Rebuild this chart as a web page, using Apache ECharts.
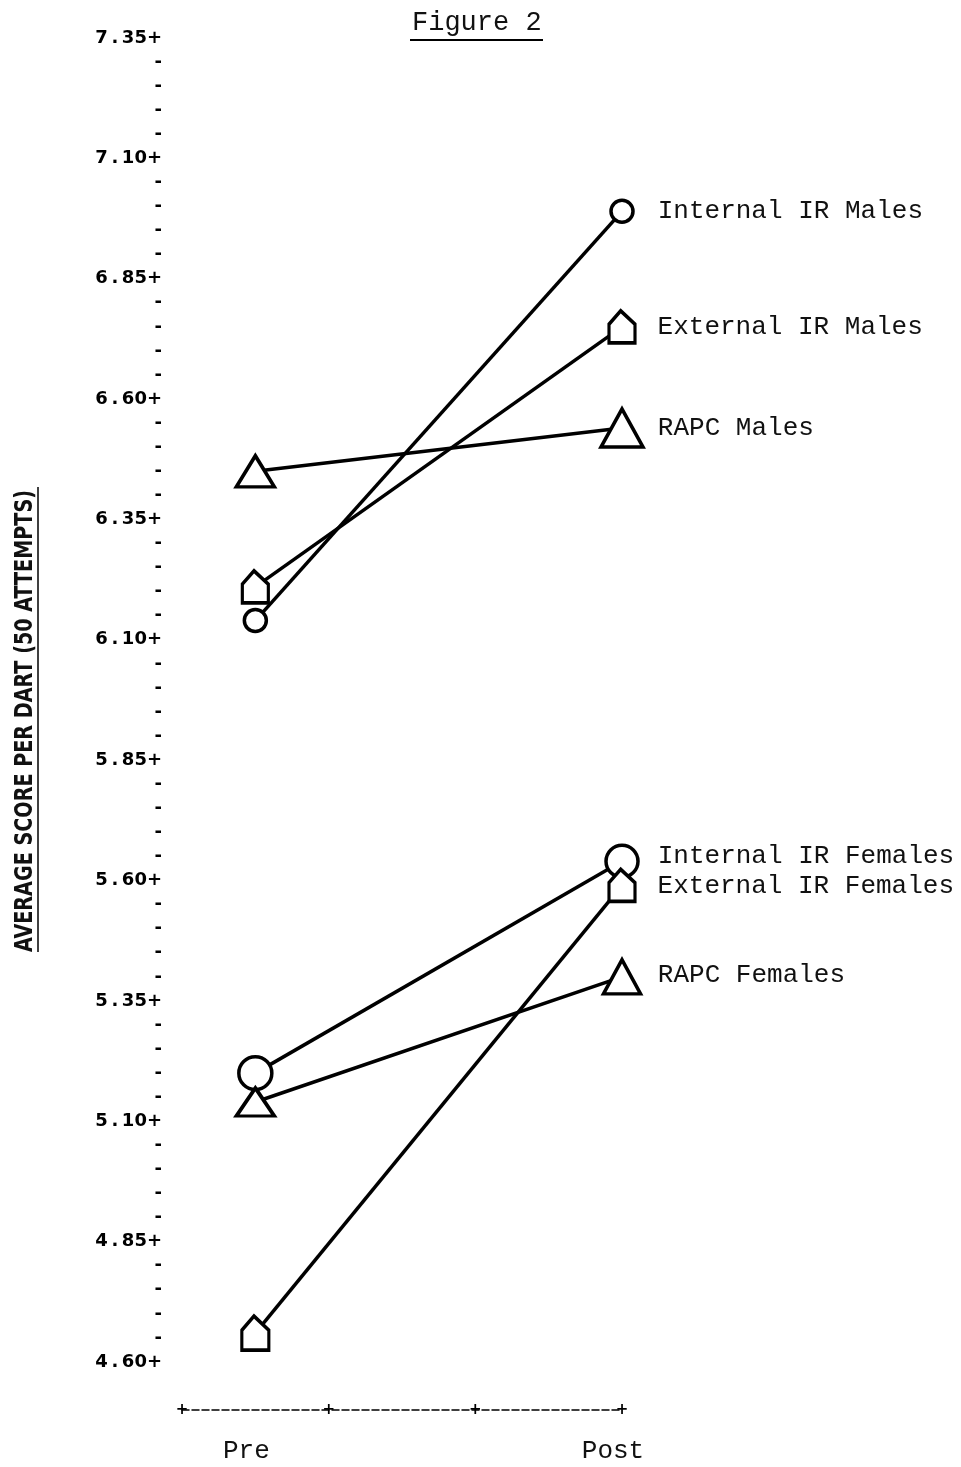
<!DOCTYPE html>
<html>
<head>
<meta charset="utf-8">
<title>Figure 2</title>
<script src="https://cdn.jsdelivr.net/npm/echarts@6/dist/echarts.min.js"></script>
<style>
    html, body { margin: 0; padding: 0; background: #fff; }
    #main { width: 961px; height: 1467px; }
</style>
</head>
<body>
<div id="main"></div>
<script>
// 数据
var groups = ['Internal IR Males', 'External IR Males', 'RAPC Males',
              'Internal IR Females', 'External IR Females', 'RAPC Females'];
var preScores  = [6.14, 6.21, 6.45, 5.20, 4.66, 5.14];
var postScores = [6.99, 6.75, 6.54, 5.64, 5.59, 5.40];
var phases = ['Pre', 'Post'];
var phaseX = [0.5, 3];
var yTickLabels = ['4.60', '4.85', '5.10', '5.35', '5.60', '5.85',
                   '6.10', '6.35', '6.60', '6.85', '7.10', '7.35'];
var yAxisTitle = 'AVERAGE SCORE PER DART (50 ATTEMPTS)';

// 标记形状
var house = 'path://M0,10 L9,0 L20,10 L20,24 L0,24 Z';
var markers = [
    { symbol: 'circle', pre: 22, post: 22 },
    { symbol: house, pre: [26, 32], post: [26, 32] },
    { symbol: 'triangle', pre: [38, 31], post: [42, 38] },
    { symbol: 'circle', pre: 33, post: 32 },
    { symbol: house, pre: [27, 34], post: [26, 32] },
    { symbol: 'triangle', pre: [38, 28], post: [37, 34] }
];
var labelDy = [0, 0, 0, -5, 1, -2];

var chart = echarts.init(document.getElementById('main'));

var series = [];
for (var i = 0; i < groups.length; i++) {
    var m = markers[i];
    var postW = Array.isArray(m.post) ? m.post[0] : m.post;
    series.push({
        name: groups[i],
        type: 'line',
        xAxisIndex: 0,
        symbol: m.symbol,
        symbolKeepAspect: false,
        lineStyle: { color: '#000', width: 3.5 },
        itemStyle: { color: '#fff', borderColor: '#000', borderWidth: 3.5 },
        z: 3,
        data: [
            { value: [phaseX[0], preScores[i]], symbolSize: m.pre },
            {
                value: [phaseX[1], postScores[i]],
                symbolSize: m.post,
                label: {
                    show: true,
                    position: 'right',
                    distance: 34 - postW / 2,
                    offset: [0, labelDy[i]],
                    formatter: groups[i],
                    fontFamily: 'Liberation Mono, monospace',
                    fontSize: 26,
                    color: '#111'
                }
            }
        ]
    });
}

var fig = 'Figure 2';
var nameFont = 'bold 24px "DejaVu Sans Condensed", "Liberation Sans Narrow", sans-serif';
var ctx = document.createElement('canvas').getContext('2d');
ctx.font = nameFont;
var nameScale = 462 / ctx.measureText(yAxisTitle).width;

var option = {
    animation: false,
    backgroundColor: '#fff',
    grid: { left: 182, right: 339, top: 38, bottom: 105, containLabel: false },
    xAxis: [
        {
            // 虚线横轴，带 + 号
            type: 'value', min: 0, max: 3, interval: 1,
            position: 'bottom', offset: 48,
            axisLine: { show: true, lineStyle: { color: '#000', width: 1.5, type: [7, 3] } },
            axisTick: { show: false },
            splitLine: { show: false },
            axisLabel: {
                formatter: function () { return '+'; },
                margin: 0, verticalAlign: 'middle',
                fontFamily: 'DejaVu Sans', fontWeight: 'bold', fontSize: 15, color: '#000'
            }
        },
        {
            type: 'value', min: 0, max: 3, interval: 0.5,
            position: 'bottom',
            axisLine: { show: false },
            axisTick: { show: false },
            splitLine: { show: false },
            axisLabel: {
                formatter: function (v) {
                    var k = phaseX.indexOf(v);
                    return k >= 0 ? phases[k] : '';
                },
                margin: 89, verticalAlign: 'middle',
                padding: [0, 18, 0, 0],
                fontFamily: 'Liberation Mono, monospace', fontSize: 26, color: '#111'
            }
        }
    ],
    yAxis: {
        type: 'value', min: 4.60, max: 7.35, interval: 0.05,
        axisLine: { show: false },
        axisTick: { show: false },
        splitLine: { show: false },
        axisLabel: {
            margin: 20,
            fontFamily: 'DejaVu Sans', fontWeight: 'bold', fontSize: 18, color: '#000',
            formatter: function (v) {
                var idx = Math.round((v - 4.60) / 0.05);
                if (idx % 5 === 0) {
                    var t = yTickLabels[idx / 5];
                    return t.replace('.', '\u2009.\u2009') + '+';
                }
                return '-';
            }
        }
    },
    graphic: [
        {
            type: 'text', left: 412, top: 9,
            style: { text: fig, font: '27px "Liberation Mono", monospace', fill: '#111' }
        },
        {
            type: 'line',
            shape: { x1: 410, y1: 40, x2: 543, y2: 40 },
            style: { stroke: '#000', lineWidth: 2 }
        },
        {
            type: 'text', x: 26, y: 721, rotation: Math.PI / 2, scaleX: nameScale,
            style: {
                text: yAxisTitle,
                font: nameFont,
                fill: '#111', align: 'center', verticalAlign: 'middle'
            }
        },
        {
            type: 'line',
            shape: { x1: 38, y1: 487, x2: 38, y2: 952 },
            style: { stroke: '#000', lineWidth: 1.5 }
        }
    ],
    series: series
};

chart.setOption(option);
</script>
</body>
</html>
